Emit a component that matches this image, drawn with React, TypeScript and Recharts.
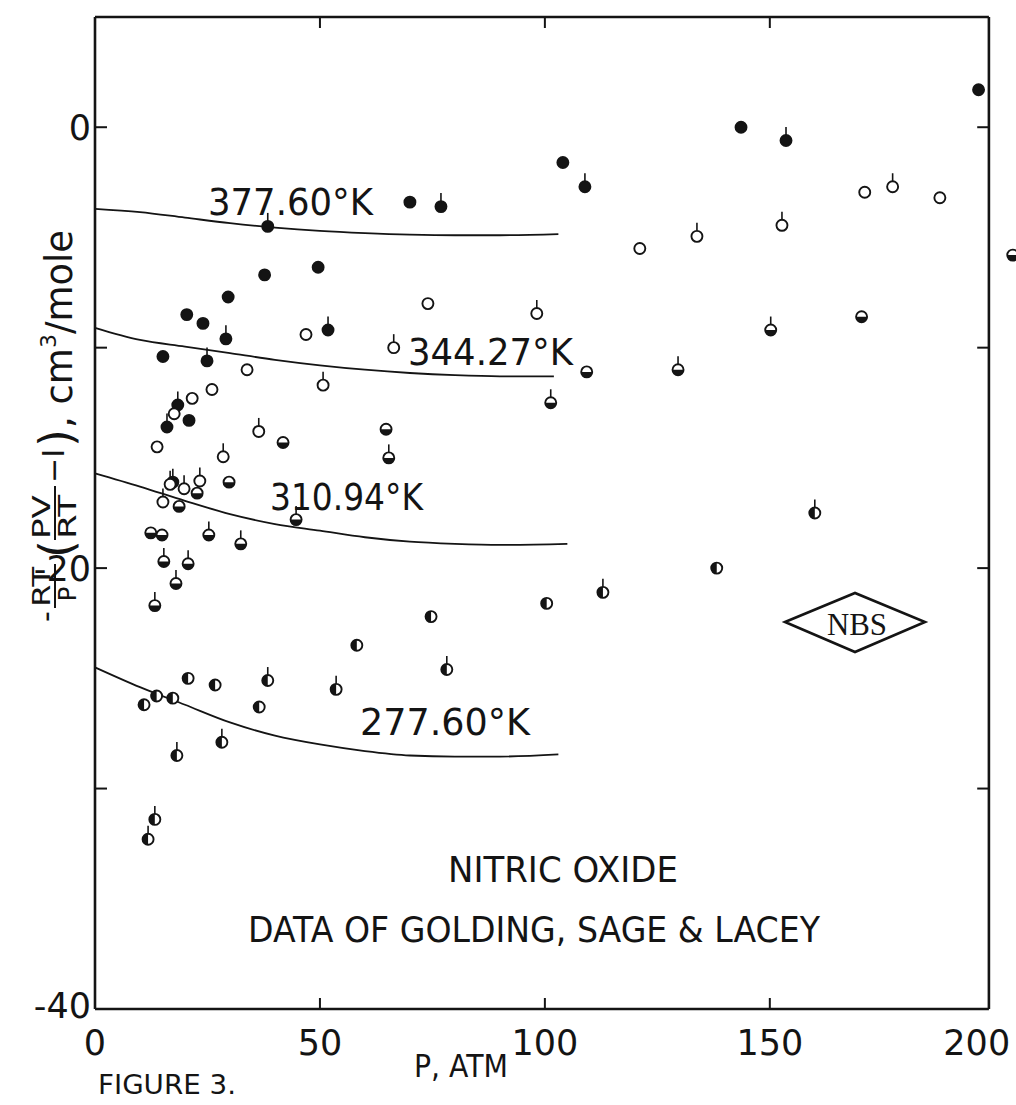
import { ComposedChart, XAxis, YAxis, Scatter, Line, ReferenceLine } from "recharts";

// P in atm, B = -RT/P (PV/RT - 1) in cm3/mole
const P_TICKS = [0, 50, 100, 150, 200];
const B_TICKS = [0, -10, -20, -30, -40];
const B_LABELLED = [0, -20, -40];

// 377.60 K, solid dots
const S377 = [
  { p: 196.4, b: 1.7 }, { p: 143.6, b: 0.0 }, { p: 104.0, b: -1.6 }, { p: 70.0, b: -3.4 },
  { p: 37.7, b: -6.7 }, { p: 49.6, b: -6.35 }, { p: 29.6, b: -7.7 }, { p: 20.4, b: -8.5 },
  { p: 24.0, b: -8.9 }, { p: 15.1, b: -10.4 }, { p: 20.9, b: -13.3 },
];
const S377_TAGGED = [
  { p: 153.6, b: -0.6 }, { p: 108.9, b: -2.7 }, { p: 76.9, b: -3.6 }, { p: 38.4, b: -4.5 },
  { p: 29.1, b: -9.6 }, { p: 51.8, b: -9.2 }, { p: 24.9, b: -10.6 }, { p: 18.4, b: -12.6 },
  { p: 16.0, b: -13.6 }, { p: 17.3, b: -16.1 },
];

// 344.27 K, open circles
const S344 = [
  { p: 121.1, b: -5.5 }, { p: 171.1, b: -2.95 }, { p: 187.8, b: -3.2 }, { p: 74.0, b: -8.0 },
  { p: 46.9, b: -9.4 }, { p: 33.8, b: -11.0 }, { p: 26.0, b: -11.9 }, { p: 21.6, b: -12.3 },
  { p: 17.6, b: -13.0 }, { p: 13.8, b: -14.5 },
];
const S344_TAGGED = [
  { p: 133.8, b: -4.95 }, { p: 152.7, b: -4.45 }, { p: 177.3, b: -2.7 }, { p: 98.2, b: -8.45 },
  { p: 66.4, b: -10.0 }, { p: 50.7, b: -11.7 }, { p: 36.4, b: -13.8 }, { p: 28.5, b: -14.95 },
  { p: 16.7, b: -16.2 }, { p: 19.8, b: -16.4 }, { p: 23.3, b: -16.05 }, { p: 15.1, b: -17.0 },
];

// 310.94 K, lower half filled
const S310 = [
  { p: 170.4, b: -8.6 }, { p: 109.3, b: -11.1 }, { p: 64.7, b: -13.7 }, { p: 41.8, b: -14.3 },
  { p: 22.7, b: -16.6 }, { p: 29.8, b: -16.1 }, { p: 18.7, b: -17.2 }, { p: 12.4, b: -18.4 },
  { p: 14.9, b: -18.5 }, { p: 204.0, b: -5.8 },
];
const S310_TAGGED = [
  { p: 150.2, b: -9.2 }, { p: 129.6, b: -11.0 }, { p: 101.3, b: -12.5 }, { p: 65.3, b: -15.0 },
  { p: 44.7, b: -17.8 }, { p: 25.3, b: -18.5 }, { p: 32.4, b: -18.9 }, { p: 15.3, b: -19.7 },
  { p: 20.7, b: -19.8 }, { p: 18.0, b: -20.7 }, { p: 13.3, b: -21.7 },
];

// 277.60 K, left half filled
const S277 = [
  { p: 74.7, b: -22.2 }, { p: 58.2, b: -23.5 }, { p: 20.7, b: -25.0 }, { p: 26.7, b: -25.3 },
  { p: 13.7, b: -25.8 }, { p: 17.3, b: -25.9 }, { p: 10.9, b: -26.2 }, { p: 36.5, b: -26.3 },
  { p: 100.4, b: -21.6 }, { p: 138.2, b: -20.0 },
];
const S277_TAGGED = [
  { p: 78.2, b: -24.6 }, { p: 38.4, b: -25.1 }, { p: 53.6, b: -25.5 }, { p: 28.2, b: -27.9 },
  { p: 18.2, b: -28.5 }, { p: 13.3, b: -31.4 }, { p: 11.8, b: -32.3 }, { p: 112.9, b: -21.1 },
  { p: 160.0, b: -17.5 },
];

// calculated curves
const C377 = [
  { p: 0, b: -3.7 }, { p: 10, b: -3.85 }, { p: 20, b: -4.1 }, { p: 30, b: -4.35 }, { p: 40, b: -4.55 },
  { p: 50, b: -4.7 }, { p: 60, b: -4.8 }, { p: 70, b: -4.87 }, { p: 80, b: -4.9 }, { p: 90, b: -4.9 },
  { p: 103, b: -4.85 },
];
const C344 = [
  { p: 0, b: -9.1 }, { p: 10, b: -9.65 }, { p: 20, b: -9.95 }, { p: 30, b: -10.25 }, { p: 40, b: -10.55 },
  { p: 50, b: -10.8 }, { p: 60, b: -11.0 }, { p: 70, b: -11.15 }, { p: 80, b: -11.25 }, { p: 90, b: -11.3 },
  { p: 102, b: -11.3 },
];
const C310 = [
  { p: 0, b: -15.7 }, { p: 10, b: -16.3 }, { p: 20, b: -16.95 }, { p: 30, b: -17.55 }, { p: 40, b: -18.0 },
  { p: 50, b: -18.3 }, { p: 60, b: -18.6 }, { p: 70, b: -18.8 }, { p: 80, b: -18.9 }, { p: 90, b: -18.95 },
  { p: 105, b: -18.9 },
];
const C277 = [
  { p: 0, b: -24.5 }, { p: 10, b: -25.4 }, { p: 20, b: -26.2 }, { p: 30, b: -27.0 }, { p: 40, b: -27.6 },
  { p: 50, b: -28.0 }, { p: 60, b: -28.3 }, { p: 70, b: -28.5 }, { p: 80, b: -28.55 }, { p: 90, b: -28.55 },
  { p: 103, b: -28.45 },
];

const INK = "#141414";
const FONT = "'DejaVu Sans', sans-serif";
const FRAME_R = 198.7;
const R = 5.5;

type Kind = "full" | "open" | "lower" | "left";

function marker(kind: Kind, tagged: boolean) {
  return (props: any) => {
    const { cx, cy } = props;
    if (cx == null || cy == null) return <g />;
    let half = null;
    if (kind === "lower") half = <path d={`M${cx - R},${cy} A${R},${R} 0 0 0 ${cx + R},${cy} Z`} fill={INK} />;
    if (kind === "left") half = <path d={`M${cx},${cy - R} A${R},${R} 0 0 0 ${cx},${cy + R} Z`} fill={INK} />;
    return (
      <g>
        {tagged && <line x1={cx} y1={cy - R} x2={cx} y2={cy - R - 8} stroke={INK} strokeWidth={1.6} />}
        <circle cx={cx} cy={cy} r={R} fill={kind === "full" ? INK : "#fff"} stroke={INK} strokeWidth={1.9} />
        {half}
      </g>
    );
  };
}

function PTick({ x, y, payload }: any) {
  const v = payload.value;
  return (
    <g>
      {v > 0 && v < 200 && <line x1={x} y1={y} x2={x} y2={y - 11} stroke={INK} strokeWidth={2} />}
      <text x={v === 200 ? x - 18 : x} y={y + 46} textAnchor="middle" fontFamily={FONT} fontSize={35} fill={INK}>
        {v}
      </text>
    </g>
  );
}

function BTick({ x, y, payload }: any) {
  const v = payload.value;
  return (
    <g>
      {v > -40 && <line x1={x} y1={y} x2={x + 12} y2={y} stroke={INK} strokeWidth={2} />}
      {B_LABELLED.includes(v) && (
        <text x={x - 4} y={v === -40 ? y + 9 : y + 13} textAnchor="end" fontFamily={FONT} fontSize={35} fill={INK}>
          {v}
        </text>
      )}
    </g>
  );
}

function YLabel() {
  // rotated -90deg: local x = -screenY, local y = screenX
  const t = { fontFamily: FONT, fill: INK } as const;
  return (
    <g transform="rotate(-90)">
      <text x={-622} y={56} fontSize={30} {...t}>-</text>
      <text x={-607} y={50} fontSize={24} textLength={40} lengthAdjust="spacingAndGlyphs" {...t}>RT</text>
      <line x1={-608} y1={55} x2={-564} y2={55} stroke={INK} strokeWidth={2} />
      <text x={-594} y={76} fontSize={24} textAnchor="middle" {...t}>P</text>
      <text x={-558} y={72} fontSize={46} {...t}>(</text>
      <text x={-539} y={50} fontSize={24} textLength={44} lengthAdjust="spacingAndGlyphs" {...t}>PV</text>
      <line x1={-540} y1={55} x2={-486} y2={55} stroke={INK} strokeWidth={2} />
      <text x={-539} y={76} fontSize={24} textLength={44} lengthAdjust="spacingAndGlyphs" {...t}>RT</text>
      <text x={-483} y={64} fontSize={30} {...t}>−I</text>
      <text x={-447} y={72} fontSize={46} {...t}>)</text>
      <text x={-428} y={72} fontSize={37} {...t}>
        , cm<tspan fontSize={22} dy={-16}>3</tspan>
        <tspan dy={16}>/mole</tspan>
      </text>
    </g>
  );
}

function Notes() {
  const t = { fontFamily: FONT, fill: INK, lengthAdjust: "spacingAndGlyphs" } as const;
  return (
    <g>
      <text x={208} y={215} fontSize={37} textLength={165} {...t}>377.60°K</text>
      <text x={408} y={365} fontSize={37} textLength={165} {...t}>344.27°K</text>
      <text x={270} y={510} fontSize={37} textLength={153} {...t}>310.94°K</text>
      <text x={360} y={735} fontSize={37} textLength={170} {...t}>277.60°K</text>
      <text x={448} y={882} fontSize={36} textLength={230} {...t}>NITRIC OXIDE</text>
      <text x={248} y={942} fontSize={36} textLength={572} {...t}>DATA OF GOLDING, SAGE &amp; LACEY</text>
      <text x={414} y={1077} fontSize={32} textLength={94} {...t}>P, ATM</text>
      <text x={98} y={1094} fontSize={27} textLength={138} {...t}>FIGURE 3.</text>
      <polygon points="785,622 855,593 925,622 855,652" fill="none" stroke={INK} strokeWidth={2.6} />
      <text x={857} y={635} fontSize={32} textAnchor="middle" textLength={60} lengthAdjust="spacingAndGlyphs"
        fontFamily="'Liberation Serif', serif" fill={INK}>NBS</text>
      <YLabel />
    </g>
  );
}

export default function App() {
  const frame = { stroke: INK, strokeWidth: 2.6 };
  return (
    <div style={{ position: "absolute", left: 0, top: 0, background: "#fff" }}>
      <ComposedChart width={1016} height={1105} margin={{ top: 17, right: 1, bottom: 0, left: 0 }}>
        <XAxis type="number" dataKey="p" domain={[0, 204.5]} ticks={P_TICKS} axisLine={false}
          tickLine={false} tickSize={0} tickMargin={0} height={96} tick={<PTick />} interval={0} />
        <YAxis type="number" dataKey="b" domain={[-40, 5]} ticks={B_TICKS} width={95}
          axisLine={{ stroke: INK, strokeWidth: 2.6 }} tickLine={false} tickSize={0} tickMargin={0}
          tick={<BTick />} interval={0} />

        <ReferenceLine segment={[{ x: 0, y: 5 }, { x: FRAME_R, y: 5 }]} {...frame} />
        <ReferenceLine segment={[{ x: FRAME_R, y: -40 }, { x: FRAME_R, y: 5 }]} {...frame} />
        <ReferenceLine segment={[{ x: 0, y: -40 }, { x: FRAME_R, y: -40 }]} {...frame} />
        {[0, -10, -20, -30].map((v) => (
          <ReferenceLine key={`r${v}`} segment={[{ x: FRAME_R - 2.6, y: v }, { x: FRAME_R, y: v }]} stroke={INK} strokeWidth={2} />
        ))}
        {[50, 100, 150].map((v) => (
          <ReferenceLine key={`t${v}`} segment={[{ x: v, y: 5 }, { x: v, y: 4.5 }]} stroke={INK} strokeWidth={2} />
        ))}

        {[C377, C344, C310, C277].map((c, i) => (
          <Line key={`c${i}`} data={c} dataKey="b" type="monotone" stroke={INK} strokeWidth={1.8}
            dot={false} activeDot={false} isAnimationActive={false} />
        ))}

        <Scatter data={S377} shape={marker("full", false)} isAnimationActive={false} />
        <Scatter data={S377_TAGGED} shape={marker("full", true)} isAnimationActive={false} />
        <Scatter data={S344} shape={marker("open", false)} isAnimationActive={false} />
        <Scatter data={S344_TAGGED} shape={marker("open", true)} isAnimationActive={false} />
        <Scatter data={S310} shape={marker("lower", false)} isAnimationActive={false} />
        <Scatter data={S310_TAGGED} shape={marker("lower", true)} isAnimationActive={false} />
        <Scatter data={S277} shape={marker("left", false)} isAnimationActive={false} />
        <Scatter data={S277_TAGGED} shape={marker("left", true)} isAnimationActive={false} />

        <Notes />
      </ComposedChart>
    </div>
  );
}
